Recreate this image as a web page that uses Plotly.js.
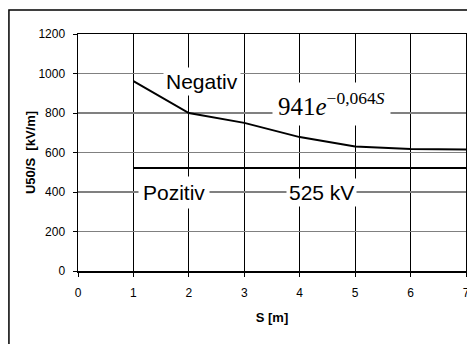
<!DOCTYPE html>
<html>
<head>
<meta charset="utf-8">
<script src="https://cdn.plot.ly/plotly-3.0.1.min.js"></script>
<style>html,body{margin:0;padding:0;background:#fff;}#chart{width:467px;height:344px;}</style>
</head>
<body>
<div id="chart"></div>
<script>
// Data
const sValues = [1, 2, 3, 4, 5, 6, 7];
const negativValues = [962, 800, 750, 678, 630, 618, 615];
const pozitivS = [1, 7];
const pozitivValues = [522, 522];
const xTicks = [0, 1, 2, 3, 4, 5, 6, 7];
const yTicks = [0, 200, 400, 600, 800, 1000, 1200];
const labels = {
  negativ: "Negativ",
  formula: "941<i>e</i><sup>\u22120,064<i>S</i></sup>",
  pozitiv: "Pozitiv",
  kv: "525 kV",
  xTitle: "S [m]",
  yTitle: "U50/S  [kV/m]"
};

const sans = "'Liberation Sans', Arial, sans-serif";

const traces = [
  {x: sValues, y: negativValues, mode: 'lines', line: {color: '#000', width: 2}, hoverinfo: 'skip'},
  {x: pozitivS, y: pozitivValues, mode: 'lines', line: {color: '#000', width: 2}, hoverinfo: 'skip'}
];

const layout = {
  width: 467, height: 344,
  margin: {l: 78, r: 1, t: 34, b: 73},
  paper_bgcolor: '#fff', plot_bgcolor: '#fff',
  showlegend: false,
  xaxis: {
    range: [0, 7], tickvals: xTicks, ticktext: xTicks.map(String),
    showgrid: true, gridcolor: '#000', gridwidth: 1,
    showline: true, linecolor: '#000', linewidth: 1.5, mirror: true,
    ticks: 'outside', ticklen: 4, tickcolor: '#000',
    tickfont: {family: sans, size: 12, color: '#000'},
    ticklabelstandoff: 6, ticklabeloverflow: 'allow',
    zeroline: false,
    title: {text: '<b>' + labels.xTitle + '</b>', font: {family: sans, size: 13, color: '#000'}, standoff: 14}
  },
  yaxis: {
    range: [0, 1200], tickvals: yTicks, ticktext: yTicks.map(String),
    showgrid: true, gridcolor: '#808080', gridwidth: 1.5,
    showline: true, linecolor: '#000', linewidth: 1.5, mirror: true,
    ticks: 'outside', ticklen: 4, tickcolor: '#000',
    tickfont: {family: sans, size: 12, color: '#000'},
    ticklabelstandoff: 5,
    zeroline: false,
    title: {text: '<b>' + labels.yTitle + '</b>', font: {family: sans, size: 13, color: '#000'}, standoff: 0}
  },
  annotations: [
    {x: 2.23, y: 962, xref: 'x', yref: 'y', text: labels.negativ, showarrow: false,
     font: {family: sans, size: 21, color: '#000'}, bgcolor: '#fff', borderpad: 2},
    {x: 4.58, y: 846, xref: 'x', yref: 'y', text: labels.formula, showarrow: false,
     font: {family: "'Liberation Serif', 'Times New Roman', serif", size: 25, color: '#000'}, bgcolor: '#fff', borderpad: 5},
    {x: 1.73, y: 395, xref: 'x', yref: 'y', text: labels.pozitiv, showarrow: false,
     font: {family: sans, size: 21, color: '#000'}, bgcolor: '#fff', borderpad: 4},
    {x: 4.39, y: 400, xref: 'x', yref: 'y', text: labels.kv, showarrow: false,
     font: {family: sans, size: 21, color: '#000'}, bgcolor: '#fff', borderpad: 2}
  ],
  shapes: [
    {type: 'rect', xref: 'paper', yref: 'paper', x0: -0.178, x1: 1.2, y0: -0.5, y1: 1.101,
     line: {color: '#000', width: 1.5}, fillcolor: 'rgba(0,0,0,0)', layer: 'below'}
  ]
};

Plotly.newPlot('chart', traces, layout, {staticPlot: true, displayModeBar: false});
</script>
</body>
</html>
